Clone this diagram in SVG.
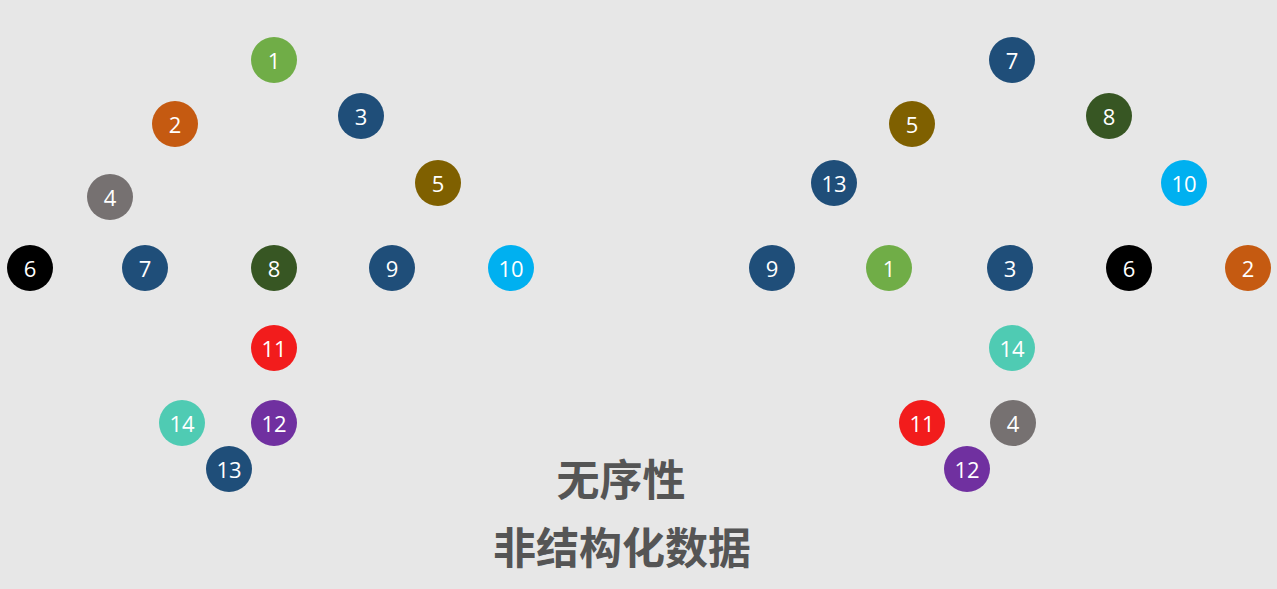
<svg xmlns="http://www.w3.org/2000/svg" width="1277" height="589" viewBox="0 0 1277 589">
<style>
.n text{font-family:"Open Sans","Noto Sans",sans-serif;font-size:22px;fill:#fff;text-anchor:middle;dominant-baseline:central}
.t{font-family:"Noto Sans CJK SC",sans-serif;font-weight:bold;font-size:43px;fill:#555555;text-anchor:middle;dominant-baseline:central}
.g{fill:#70AD47}.o{fill:#C55A11}.b{fill:#1F4E79}.y{fill:#767171}.ol{fill:#7F6000}.k{fill:#000}.dg{fill:#375623}.c{fill:#00B0F0}.r{fill:#F21C1C}.p{fill:#7030A0}.tl{fill:#4FCBB3}
</style>
<rect width="1277" height="589" fill="#E7E7E7"/>
<g id="connectors"/>
<g id="left" class="n">
<g id="L1"><circle cx="274" cy="60" r="23" class="g"/><text x="274" y="60">1</text></g>
<g id="L2"><circle cx="175" cy="124" r="23" class="o"/><text x="175" y="124">2</text></g>
<g id="L3"><circle cx="361" cy="116" r="23" class="b"/><text x="361" y="116">3</text></g>
<g id="L4"><circle cx="110" cy="197" r="23" class="y"/><text x="110" y="197">4</text></g>
<g id="L5"><circle cx="438" cy="183" r="23" class="ol"/><text x="438" y="183">5</text></g>
<g id="L6"><circle cx="30" cy="268" r="23" class="k"/><text x="30" y="268">6</text></g>
<g id="L7"><circle cx="145" cy="268" r="23" class="b"/><text x="145" y="268">7</text></g>
<g id="L8"><circle cx="274" cy="268" r="23" class="dg"/><text x="274" y="268">8</text></g>
<g id="L9"><circle cx="392" cy="268" r="23" class="b"/><text x="392" y="268">9</text></g>
<g id="L10"><circle cx="511" cy="268" r="23" class="c"/><text x="511" y="268">10</text></g>
<g id="L11"><circle cx="274" cy="348" r="23" class="r"/><text x="274" y="348">11</text></g>
<g id="L12"><circle cx="274" cy="423" r="23" class="p"/><text x="274" y="423">12</text></g>
<g id="L13"><circle cx="229" cy="469" r="23" class="b"/><text x="229" y="469">13</text></g>
<g id="L14"><circle cx="182" cy="423" r="23" class="tl"/><text x="182" y="423">14</text></g>
</g>
<g id="right" class="n">
<g id="R7"><circle cx="1012" cy="60" r="23" class="b"/><text x="1012" y="60">7</text></g>
<g id="R8"><circle cx="1109" cy="116" r="23" class="dg"/><text x="1109" y="116">8</text></g>
<g id="R5"><circle cx="912" cy="124" r="23" class="ol"/><text x="912" y="124">5</text></g>
<g id="R13"><circle cx="834" cy="183" r="23" class="b"/><text x="834" y="183">13</text></g>
<g id="R10"><circle cx="1184" cy="183" r="23" class="c"/><text x="1184" y="183">10</text></g>
<g id="R9"><circle cx="772" cy="268" r="23" class="b"/><text x="772" y="268">9</text></g>
<g id="R1"><circle cx="889" cy="268" r="23" class="g"/><text x="889" y="268">1</text></g>
<g id="R3"><circle cx="1010" cy="268" r="23" class="b"/><text x="1010" y="268">3</text></g>
<g id="R6"><circle cx="1129" cy="268" r="23" class="k"/><text x="1129" y="268">6</text></g>
<g id="R2"><circle cx="1248" cy="268" r="23" class="o"/><text x="1248" y="268">2</text></g>
<g id="R14"><circle cx="1012" cy="348" r="23" class="tl"/><text x="1012" y="348">14</text></g>
<g id="R11"><circle cx="922" cy="423" r="23" class="r"/><text x="922" y="423">11</text></g>
<g id="R4"><circle cx="1013" cy="423" r="23" class="y"/><text x="1013" y="423">4</text></g>
<g id="R12"><circle cx="967" cy="469" r="23" class="p"/><text x="967" y="469">12</text></g>
</g>
<g id="labels">
<text class="t" x="621" y="477">无序性</text>
<text class="t" x="622" y="545">非结构化数据</text>
</g>
</svg>
